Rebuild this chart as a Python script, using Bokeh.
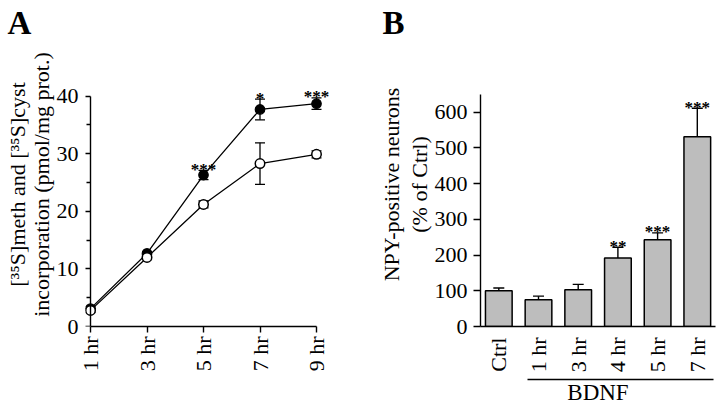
import math
from bokeh.plotting import figure
from bokeh.models import Range1d, ColumnDataSource, Whisker, TeeHead, FixedTicker, LinearAxis
from bokeh.layouts import row
from bokeh.embed import file_html
from bokeh.resources import INLINE
from bokeh.core.properties import value

FONT = "Liberation Serif"

# ---------------- data: panel A ----------------
hours_a = [1, 3, 5, 7, 9]
hour_labels_a = ["1 hr", "3 hr", "5 hr", "7 hr", "9 hr"]
bdnf_mean = [3.1, 12.7, 26.3, 37.7, 38.7]
bdnf_err = [0.3, 0.3, 0.8, 1.8, 1.0]
ctrl_mean = [2.8, 12.0, 21.2, 28.3, 29.9]
ctrl_err = [0.3, 0.3, 0.6, 3.6, 0.6]
sig_a = ["", "", "***", "*", "***"]
yticks_a = [0, 10, 20, 30, 40]
yminor_a = [5, 15, 25, 35]
ylabel_a = "[³⁵S]meth and [³⁵S]cyst\nincorporation (pmol/mg prot.)"

# ---------------- data: panel B ----------------
cats_b = ["Ctrl", "1 hr", "3 hr", "4 hr", "5 hr", "7 hr"]
npy_mean = [100, 75, 103, 192, 243, 531]
npy_err = [8, 10, 15, 30, 19, 80]
sig_b = ["", "", "", "**", "***", "***"]
yticks_b = [0, 100, 200, 300, 400, 500, 600]
ylabel_b1 = "NPY-positive neurons"
ylabel_b2 = "(% of Ctrl)"
group_label_b = "BDNF"

H = 408
FRAME_TOP = 42
FRAME_BOTTOM = 326


def style_axis(a, size="22px"):
    a.axis_line_color = "black"
    a.axis_line_width = 1.4
    a.major_tick_line_color = "black"
    a.major_tick_line_width = 1.4
    a.minor_tick_line_color = "black"
    a.minor_tick_line_width = 1.4
    a.major_tick_in = 0
    a.minor_tick_in = 0
    a.major_label_text_font = FONT
    a.major_label_text_font_size = size
    a.major_label_text_color = "black"
    a.axis_label_text_font = FONT
    a.axis_label_text_font_size = size
    a.axis_label_text_font_style = "normal"
    a.axis_label_text_color = "black"


def label_only_axis(a):
    a.axis_line_color = None
    a.major_tick_line_color = None
    a.minor_tick_line_color = None
    a.major_tick_out = 0
    a.minor_tick_out = 0
    a.major_label_standoff = 0


def style_title(t, text, offset):
    t.text = text
    t.align = "left"
    t.offset = offset
    t.vertical_align = "top"
    t.standoff = 0
    t.text_font = FONT
    t.text_font_size = "33px"
    t.text_font_style = "bold"
    t.text_color = "black"


# ================= Panel A =================
WA = 370
A_FL, A_FR = 85, 345
ax_x1, ax_x9 = 90.0, 316.0
ax_y0, ax_y40 = float(FRAME_BOTTOM), 95.7
kx = (ax_x9 - ax_x1) / 8.0
ky = (ax_y0 - ax_y40) / 40.0


def ax(px):
    return 1 + (px - ax_x1) / kx


def ay(py):
    return (ax_y0 - py) / ky


pa = figure(width=WA, height=H,
            x_range=Range1d(ax(A_FL), ax(A_FR)),
            y_range=Range1d(ay(FRAME_BOTTOM), ay(FRAME_TOP)),
            output_backend="svg", toolbar_location=None,
            min_border_left=A_FL, min_border_right=WA - A_FR,
            min_border_top=FRAME_TOP, min_border_bottom=H - FRAME_BOTTOM)
pa.grid.visible = False
pa.outline_line_color = None
pa.background_fill_color = "white"
pa.border_fill_color = "white"
style_title(pa.title, "A", 7 - A_FL)

xa = pa.xaxis[0]
style_axis(xa)
xa.bounds = (1, 9)
xa.ticker = FixedTicker(ticks=hours_a)
xa.major_label_overrides = {h: l for h, l in zip(hours_a, hour_labels_a)}
xa.major_label_orientation = math.pi / 2
xa.major_tick_out = 6
xa.major_label_standoff = 4

# labels-only left axis (tick labels + axis title)
ya = pa.yaxis[0]
style_axis(ya)
label_only_axis(ya)
ya.bounds = (0, 40)
ya.ticker = FixedTicker(ticks=yticks_a)
ya.major_label_standoff = 7
ya.axis_label = ylabel_a
ya.axis_label_standoff = 0
ya.axis_label_text_line_height = 0.943

# axis line and ticks placed at x = 1 hr
ya_line = LinearAxis(fixed_location=1, bounds=(0, 40),
                     ticker=FixedTicker(ticks=yticks_a, minor_ticks=yminor_a))
style_axis(ya_line)
ya_line.major_tick_in = 7
ya_line.major_tick_out = 0
ya_line.minor_tick_in = 4
ya_line.minor_tick_out = 0
ya_line.major_label_standoff = 0
ya_line.major_label_text_font_size = "0px"
ya_line.major_label_overrides = {t: "" for t in yticks_a}
pa.add_layout(ya_line, "right")

src_a = ColumnDataSource(dict(
    x=hours_a,
    b=bdnf_mean, b_lo=[m - e for m, e in zip(bdnf_mean, bdnf_err)],
    b_hi=[m + e for m, e in zip(bdnf_mean, bdnf_err)],
    c=ctrl_mean, c_lo=[m - e for m, e in zip(ctrl_mean, ctrl_err)],
    c_hi=[m + e for m, e in zip(ctrl_mean, ctrl_err)],
    sig=sig_a,
))

for lo, hi in (("b_lo", "b_hi"), ("c_lo", "c_hi")):
    w = Whisker(source=src_a, base="x", lower=lo, upper=hi, dimension="height",
                line_color="black", line_width=1.3, level="underlay",
                upper_head=TeeHead(size=10, line_color="black", line_width=1.3),
                lower_head=TeeHead(size=10, line_color="black", line_width=1.3))
    pa.add_layout(w)

pa.line("x", "b", source=src_a, line_color="black", line_width=1.3)
pa.line("x", "c", source=src_a, line_color="black", line_width=1.3)
pa.scatter("x", "b", source=src_a, size=9.5, fill_color="black", line_color="black", line_width=1.2)
pa.scatter("x", "c", source=src_a, size=9.5, fill_color="white", line_color="black", line_width=1.5)
pa.text("x", "b_hi", text="sig", source=src_a, text_align="center", text_baseline="alphabetic",
        text_font=value(FONT), text_font_size="17px", text_font_style="bold",
        text_color="black", y_offset=-1)

# ================= Panel B =================
WB = 350
B_X0 = WA                # left edge of panel B on the page
B_FL = 480 - B_X0        # frame left (axis) at page x = 480
B_FR = 715 - B_X0        # frame right at page x = 715
bx0_page = 498.3
bkx = 39.7
bky = (FRAME_BOTTOM - 111.7) / 600.0


def bx(page_px):
    return (page_px - bx0_page) / bkx


def by(py):
    return (FRAME_BOTTOM - py) / bky


idx_b = list(range(len(cats_b)))

pb = figure(width=WB, height=H,
            x_range=Range1d(bx(B_X0 + B_FL), bx(B_X0 + B_FR)),
            y_range=Range1d(by(FRAME_BOTTOM), by(FRAME_TOP)),
            output_backend="svg", toolbar_location=None,
            min_border_left=B_FL, min_border_right=WB - B_FR,
            min_border_top=FRAME_TOP, min_border_bottom=H - FRAME_BOTTOM)
pb.grid.visible = False
pb.outline_line_color = None
pb.background_fill_color = "white"
pb.border_fill_color = "white"
style_title(pb.title, "B", 382 - 480)

xb = pb.xaxis[0]
style_axis(xb)
xb.ticker = FixedTicker(ticks=idx_b)
xb.major_label_overrides = {i: c for i, c in zip(idx_b, cats_b)}
xb.major_label_orientation = math.pi / 2
xb.major_tick_line_color = None
xb.minor_tick_line_color = None
xb.major_tick_out = 0
xb.minor_tick_out = 0
xb.major_label_standoff = 11
xb.axis_label = " "
xb.axis_label_text_font_size = "1px"
xb.axis_label_standoff = 0

# group bracket line + BDNF label
xb_group = LinearAxis(bounds=(bx(526.7), bx(713)), ticker=FixedTicker(ticks=[]))
style_axis(xb_group, size="23px")
label_only_axis(xb_group)
xb_group.axis_line_color = "black"
xb_group.axis_line_width = 1.5
xb_group.axis_label = group_label_b
xb_group.axis_label_standoff = 0
pb.add_layout(xb_group, "below")

yb = pb.yaxis[0]
style_axis(yb)
yb.bounds = (0, 650)
yb.ticker = FixedTicker(ticks=yticks_b)
yb.minor_tick_line_color = None
yb.minor_tick_out = 0
yb.major_tick_out = 7
yb.major_label_standoff = 6

yb2 = LinearAxis(bounds=(0, 740), ticker=FixedTicker(ticks=[]))
style_axis(yb2)
label_only_axis(yb2)
yb2.axis_label = ylabel_b2
yb2.axis_label_standoff = 0
pb.add_layout(yb2, "left")

yb3 = LinearAxis(bounds=(0, 641), ticker=FixedTicker(ticks=[]))
style_axis(yb3)
label_only_axis(yb3)
yb3.axis_label = ylabel_b1
yb3.axis_label_standoff = 0
pb.add_layout(yb3, "left")

src_b = ColumnDataSource(dict(
    x=idx_b, top=npy_mean,
    hi=[m + e for m, e in zip(npy_mean, npy_err)],
    sig=sig_b,
))

pb.add_layout(Whisker(source=src_b, base="x", lower="top", upper="hi", dimension="height",
                      line_color="black", line_width=1.4, level="underlay",
                      upper_head=TeeHead(size=11, line_color="black", line_width=1.4),
                      lower_head=None))
pb.vbar(x="x", top="top", bottom=0, width=0.672, source=src_b,
        fill_color="#bdbdbd", line_color="black", line_width=1.5)
pb.text("x", "hi", text="sig", source=src_b, text_align="center", text_baseline="alphabetic",
        text_font=value(FONT), text_font_size="17px", text_font_style="bold",
        text_color="black", y_offset=-1)

layout = row(pa, pb)
open("out.html", "w").write(file_html(layout, INLINE))
